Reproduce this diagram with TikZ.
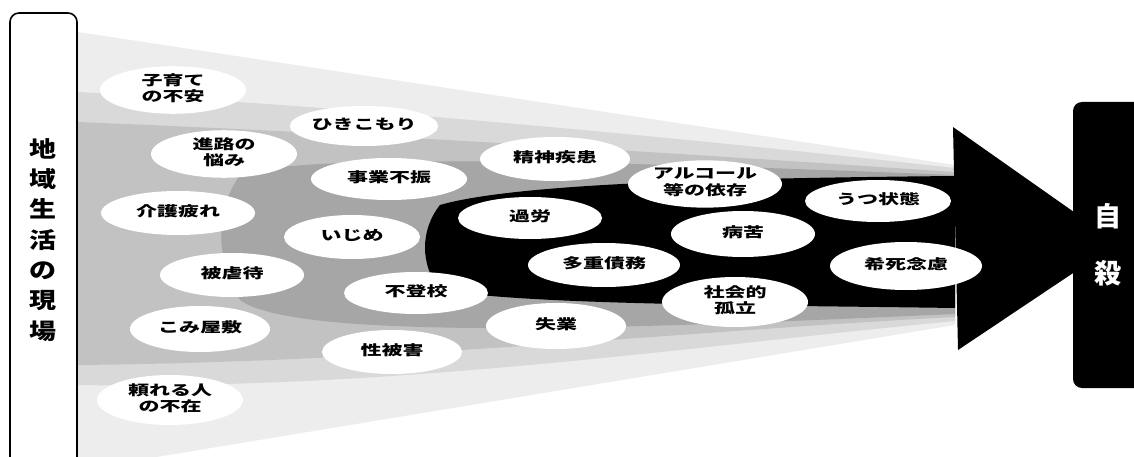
\documentclass[tikz,border=0pt]{standalone}
\usepackage{fontspec}
\setmainfont{Noto Sans CJK JP}
\usetikzlibrary{shapes.geometric}
\newcommand{\lab}[1]{\scalebox{1}[0.66]{\begin{tabular}{@{}c@{}}#1\end{tabular}}}
\tikzset{
  bub/.style={ellipse, fill=white, inner sep=0pt, text=black,
    font=\fontsize{21}{25}\bfseries\selectfont},
  sidebox/.style={line width=1.6pt, rounded corners=9pt},
  endchar/.style={text=white, inner sep=0pt, font=\fontsize{27}{30}\bfseries\selectfont},
}
\begin{document}
\begin{tikzpicture}[x=1pt,y=-1pt]
\useasboundingbox (0,0) rectangle (1134,457);
% funnel layers
\fill[gray!14] (78,32) -- (955,165) -- (955,325) -- (78,470) -- cycle;
\fill[gray!30] (78,92) .. controls (400,110) and (700,140) .. (955,168) -- (955,321) .. controls (700,345) and (400,390) .. (78,385) -- cycle;
\fill[gray!48] (78,122) .. controls (400,135) and (700,155) .. (955,172) -- (955,317) .. controls (700,330) and (400,362) .. (78,365) -- cycle;
\fill[gray!70] (240,175) .. controls (300,150) and (700,165) .. (955,175) -- (955,314) .. controls (700,325) and (300,345) .. (240,300) .. controls (215,260) and (215,210) .. cycle;
\fill[black] (440,205) .. controls (520,182) and (750,178) .. (955,176) -- (955,308) .. controls (750,305) and (530,305) .. (440,290) .. controls (420,265) and (420,230) .. cycle;
% arrow head
\fill[black] (953,127) -- (1118,243) -- (958,350) -- cycle;
% left box
\draw[sidebox] (10,480) -- (10,13) -- (77,13) -- (77,480);
\node[font=\fontsize{27}{37}\bfseries\selectfont, inner sep=0pt] (place) at (43,242)
  {\scalebox{1}[0.82]{\begin{tabular}{@{}c@{}}地\\域\\生\\活\\の\\現\\場\end{tabular}}};
% right box
\fill[rounded corners=9pt] (1073,102) rectangle (1160,388);
\node[endchar] (ji) at (1108,216) {自};
\node[endchar] (satsu) at (1108,273) {殺};
% bubbles
\node[bub, minimum width=146pt, minimum height=46pt] (n1) at (173,90) {\lab{子育て\\の不安}};
\node[bub, minimum width=146pt, minimum height=40pt] (n2) at (364,126) {\lab{ひきこもり}};
\node[bub, minimum width=146pt, minimum height=46pt] (n3) at (224,154) {\lab{進路の\\悩み}};
\node[bub, minimum width=150pt, minimum height=44pt] (n4) at (555,159) {\lab{精神疾患}};
\node[bub, minimum width=156pt, minimum height=42pt] (n5) at (389,179) {\lab{事業不振}};
\node[bub, minimum width=154pt, minimum height=40pt] (n6) at (705,184) {\lab{アルコール\\等の依存}};
\node[bub, minimum width=154pt, minimum height=44pt] (n7) at (178,213) {\lab{介護疲れ}};
\node[bub, minimum width=146pt, minimum height=42pt] (n8) at (878,201) {\lab{うつ状態}};
\node[bub, minimum width=144pt, minimum height=42pt] (n9) at (530,218) {\lab{過労}};
\node[bub, minimum width=136pt, minimum height=44pt] (n10) at (352,237) {\lab{いじめ}};
\node[bub, minimum width=144pt, minimum height=46pt] (n11) at (743,234) {\lab{病苦}};
\node[bub, minimum width=152pt, minimum height=44pt] (n12) at (604,265) {\lab{多重債務}};
\node[bub, minimum width=152pt, minimum height=48pt] (n13) at (906,266) {\lab{希死念慮}};
\node[bub, minimum width=144pt, minimum height=44pt] (n14) at (232,275) {\lab{被虐待}};
\node[bub, minimum width=144pt, minimum height=42pt] (n15) at (416,293) {\lab{不登校}};
\node[bub, minimum width=146pt, minimum height=50pt] (n16) at (735,302) {\lab{社会的\\孤立}};
\node[bub, minimum width=140pt, minimum height=46pt] (n17) at (200,329) {\lab{こみ屋敷}};
\node[bub, minimum width=140pt, minimum height=46pt] (n18) at (556,326) {\lab{失業}};
\node[bub, minimum width=140pt, minimum height=44pt] (n19) at (392,352) {\lab{性被害}};
\node[bub, minimum width=146pt, minimum height=50pt] (n20) at (170,400) {\lab{頼れる人\\の不在}};
\end{tikzpicture}
\end{document}
